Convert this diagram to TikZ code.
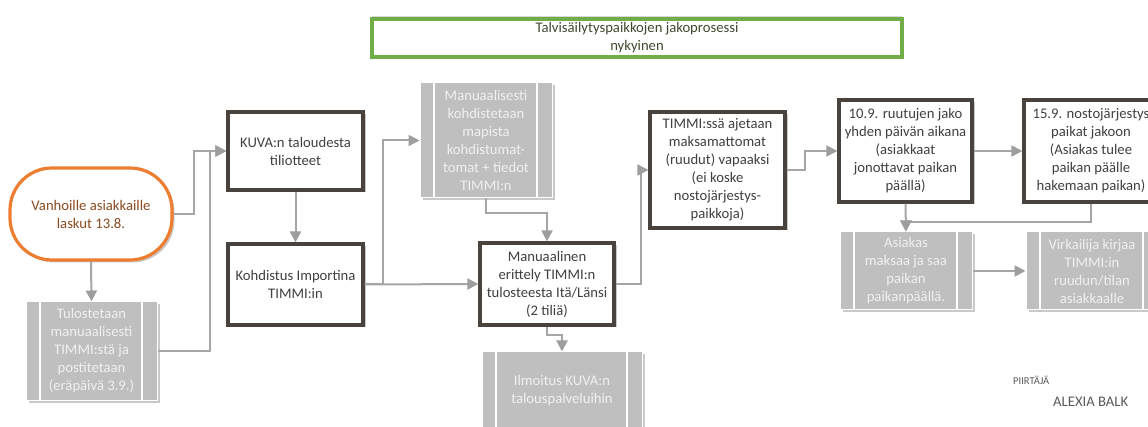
\documentclass[tikz,border=0pt]{standalone}
\usepackage{fontspec}
\setmainfont{Carlito}
\usetikzlibrary{arrows.meta,shadows}
\definecolor{boxline}{HTML}{4A423D}
\definecolor{txtdark}{HTML}{404040}
\definecolor{grayfill}{HTML}{BFBFBF}
\definecolor{graytext}{HTML}{F0F0F0}
\definecolor{linegray}{HTML}{A6A6A6}
\definecolor{arrowgray}{HTML}{9E9E9E}
\definecolor{orangeline}{HTML}{ED7D31}
\definecolor{orangetext}{HTML}{8A4B1F}
\definecolor{greenline}{HTML}{70AD47}
\definecolor{titletext}{HTML}{3F4A2E}
\definecolor{signtext}{HTML}{595959}
\begin{document}
\begin{tikzpicture}[x=1pt,y=-1pt,
  every node/.style={font=\fontsize{14.67}{18}\selectfont, align=center, inner sep=0pt},
  shad/.style={drop shadow={shadow xshift=2.5pt, shadow yshift=-2.5pt, opacity=0.35, fill=black!60}},
  procbox/.style={draw=boxline, line width=3.2pt, fill=white, text=txtdark, shad},
  graybox/.style={fill=grayfill, draw=white, line width=1pt, text=graytext, shad,
    path picture={
      \draw[white,line width=1.5pt] ([xshift=14pt]path picture bounding box.north west) -- ([xshift=14pt]path picture bounding box.south west);
      \draw[white,line width=1.5pt] ([xshift=-15pt]path picture bounding box.north east) -- ([xshift=-15pt]path picture bounding box.south east);}},
  conn/.style={draw=linegray, line width=2pt, -{Triangle[length=11pt,width=11pt,color=arrowgray]}},
  plain/.style={draw=linegray, line width=2pt},
]
\path[fill=white, use as bounding box] (0,0) rectangle (1148,427);

% title
\node[draw=greenline, line width=3.2pt, fill=white, text=titletext, minimum width=530pt, minimum height=38pt,
  drop shadow={shadow xshift=0pt, shadow yshift=2.5pt, opacity=0.25, fill=black!60}] (title) at (637,38)
  {Talvisäilytyspaikkojen jakoprosessi\\nykyinen};

% start
\node[draw=orangeline, line width=3.2pt, fill=white, text=orangetext, rounded corners=42pt,
  minimum width=162pt, minimum height=92pt, shad] (start) at (91,214)
  {Vanhoille asiakkaille\\laskut 13.8.};

\node[graybox, minimum width=131pt, minimum height=98pt] (tul) at (91.5,351)
  {Tulostetaan\\manuaalisesti\\TIMMI:stä ja\\postitetaan\\(eräpäivä 3.9.)};

\node[procbox, minimum width=135pt, minimum height=78pt] (kuva) at (295.5,151)
  {KUVA:n taloudesta\\tiliotteet};

\node[procbox, minimum width=135pt, minimum height=81pt] (koh) at (295.5,284.5)
  {Kohdistus Importina\\TIMMI:in};

\node[graybox, minimum width=132pt, minimum height=115pt] (mans) at (486,140.5)
  {Manuaalisesti\\kohdistetaan\\mapista\\kohdistumat-\\tomat + tiedot\\TIMMI:n};

\node[procbox, minimum width=134pt, minimum height=82pt] (manl) at (547,284)
  {Manuaalinen\\erittely TIMMI:n\\tulosteesta Itä/Länsi\\(2 tiliä)};

\node[graybox, minimum width=160pt, minimum height=78pt] (ilm) at (562,391)
  {Ilmoitus KUVA:n\\talouspalveluihin};

\node[procbox, minimum width=135pt, minimum height=116pt] (timmi) at (717.5,170)
  {TIMMI:ssä ajetaan\\maksamattomat\\(ruudut) vapaaksi\\(ei koske\\nostojärjestys-\\paikkoja)};

\node[procbox, minimum width=133pt, minimum height=102pt] (d109) at (905.5,151)
  {10.9. ruutujen jako\\yhden päivän aikana\\(asiakkaat\\jonottavat paikan\\päällä)};

\node[procbox, minimum width=134pt, minimum height=102pt] (d159) at (1091,151)
  {15.9. nostojärjestys\\paikat jakoon\\(Asiakas tulee\\paikan päälle\\hakemaan paikan)};

\node[graybox, minimum width=132pt, minimum height=78pt] (ase) at (906,271)
  {Asiakas\\maksaa ja saa\\paikan\\paikanpäällä.};

\node[graybox, minimum width=132pt, minimum height=78pt] (vir) at (1092,271)
  {Virkailija kirjaa\\TIMMI:in\\ruudun/tilan\\asiakkaalle};

% signature
\node[anchor=west, text=signtext, font=\fontsize{10.5}{12}\selectfont] (piir) at (1013,380) {PIIRTÄJÄ};
\node[anchor=west, text=signtext] (alexia) at (1053,402) {ALEXIA BALK};

% connectors
\draw[conn] (start.south) -- (tul.north);
\draw[conn] (start.east) -- ++(20,0) |- (kuva.west);
\draw[conn] (tul.east) -- ++(52,0) |- (kuva.west);
\draw[conn] (kuva.south) -- (koh.north);
\draw[conn] (koh.east) -- (manl.west);
\draw[conn] (koh.east) -- ++(18,0) |- (mans.west);
\draw[conn] (mans.south) -- ++(0,15) -| (manl.north);
\draw[conn] (manl.south) -- ++(0,8) -| (ilm.north);
\draw[conn] (manl.east) -- ++(25,0) |- (timmi.west);
\draw[conn] (timmi.east) -- ++(18,0) |- (d109.west);
\draw[conn] (d109.east) -- (d159.west);
\draw[conn] (d159.south) -- ++(0,18) -| (ase.north);
\draw[conn] (d109.south) -- (ase.north);
\draw[conn] (ase.east) -- (vir.west);
\end{tikzpicture}
\end{document}
